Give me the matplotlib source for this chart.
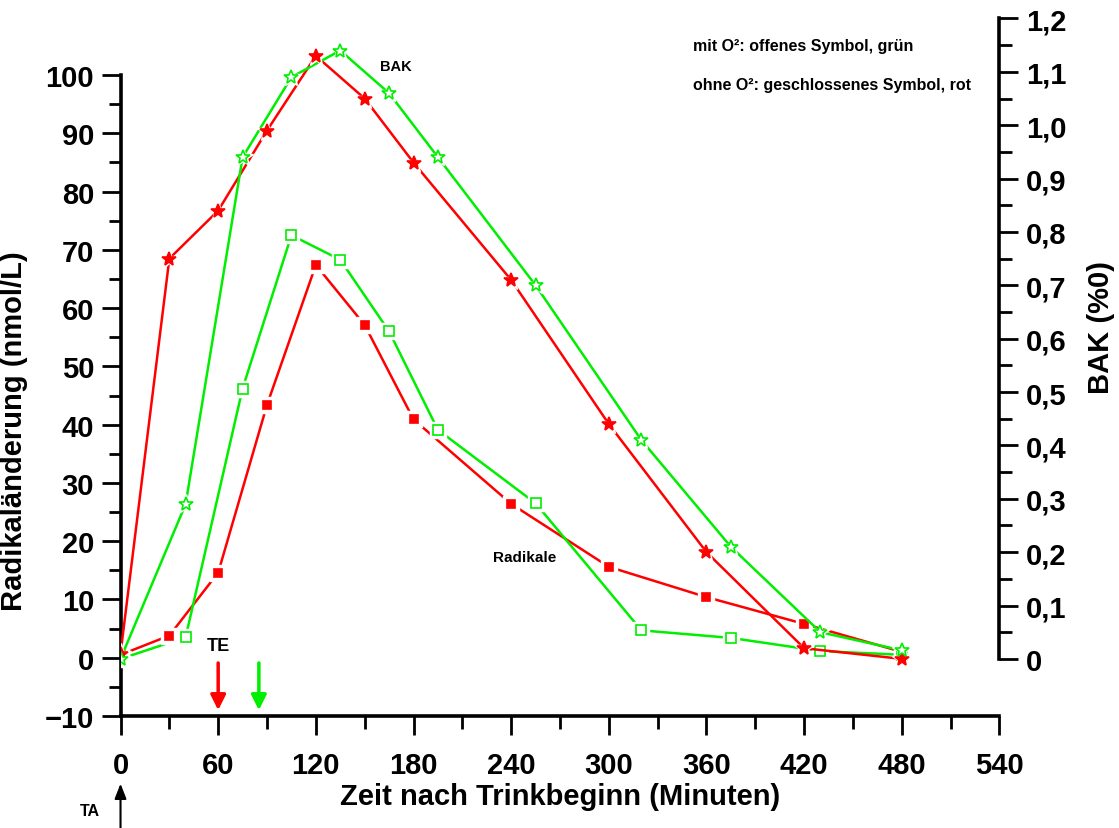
import matplotlib
matplotlib.use("Agg")
import matplotlib.pyplot as plt
from matplotlib.ticker import FixedLocator, FuncFormatter

# Zeitpunkte (Minuten nach Trinkbeginn)
zeit_rot = [0, 30, 60, 90, 120, 150, 180, 240, 300, 360, 420, 480]
zeit_gruen = [0, 40, 75, 105, 135, 165, 195, 255, 320, 375, 430, 480]

# BAK (%0) - Sterne, rechte Achse
bak_rot = [0.01, 0.75, 0.84, 0.99, 1.13, 1.05, 0.93, 0.71, 0.44, 0.20, 0.02, 0.0]
bak_gruen = [0.0, 0.29, 0.94, 1.09, 1.14, 1.06, 0.94, 0.70, 0.41, 0.21, 0.05, 0.016]

# Radikaländerung (nmol/L) - Quadrate, linke Achse
radikale_rot = [0.5, 3.8, 14.6, 43.4, 67.4, 57.1, 40.9, 26.4, 15.6, 10.4, 5.8, 1.0]
radikale_gruen = [-0.2, 3.5, 46.2, 72.5, 68.3, 56.0, 39.1, 26.5, 4.7, 3.4, 1.15, 0.5]

# Trinkende (TE) der beiden Versuche
trinkende_rot = 60
trinkende_gruen = 85

ROT = '#FF0000'
GRUEN = '#00EE00'
FONT = 'Liberation Sans'


def serie(eixo, x, y, marcador, cor, tamanho, aberto):
    """Linie mit Symbolen, die Linie wird am Symbol kurz unterbrochen."""
    eixo.plot(x, y, color=cor, lw=1.8, zorder=2, solid_capstyle='butt')
    eixo.plot(x, y, ls='none', marker=marcador, ms=tamanho + 5,
              mfc='white', mec='white', zorder=3)
    eixo.plot(x, y, ls='none', marker=marcador, ms=tamanho,
              mfc='white' if aberto else cor, mec=cor, mew=1.2, zorder=4)


def komma(v, pos):
    if abs(v) < 1e-9:
        return '0'
    return f'{v:.1f}'.replace('.', ',')


def main():
    plt.rcParams['font.family'] = [FONT, 'DejaVu Sans']
    plt.rcParams['font.weight'] = 'bold'

    fig = plt.figure(figsize=(11.19, 8.29), dpi=100)
    ax = fig.add_axes([0.1077, 0.1351, 0.7855, 0.8414])
    ax2 = ax.twinx()

    ax.set_xlim(0, 540)
    ax.set_ylim(-10, 109.7)
    ax2.set_ylim(-0.107, 1.2)

    # Achsen / Spines
    for s in ['top', 'right']:
        ax.spines[s].set_visible(False)
    for s in ['top', 'left', 'bottom']:
        ax2.spines[s].set_visible(False)
    ax.spines['left'].set_bounds(-10, 100)
    ax2.spines['right'].set_bounds(0, 1.2)
    for sp in [ax.spines['left'], ax.spines['bottom'], ax2.spines['right']]:
        sp.set_linewidth(2.6)

    ax.xaxis.set_major_locator(FixedLocator(range(0, 541, 60)))
    ax.xaxis.set_minor_locator(FixedLocator(range(30, 540, 60)))
    ax.yaxis.set_major_locator(FixedLocator(range(-10, 101, 10)))
    ax.yaxis.set_minor_locator(FixedLocator(range(-5, 100, 10)))
    ax2.yaxis.set_major_locator(FixedLocator([i / 10 for i in range(0, 13)]))
    ax2.yaxis.set_minor_locator(FixedLocator([i / 100 for i in range(5, 120, 10)]))
    ax2.yaxis.set_major_formatter(FuncFormatter(komma))

    ax.tick_params(axis='both', which='major', direction='out', length=14, width=2,
                   labelsize=21, pad=5)
    ax.tick_params(axis='both', which='minor', direction='out', length=9, width=2)
    ax.tick_params(axis='x', which='major', pad=11)
    ax2.tick_params(axis='y', which='major', direction='out', length=14, width=2,
                    labelsize=21, pad=5)
    ax2.tick_params(axis='y', which='minor', direction='out', length=9, width=2)
    for lab in ax.get_xticklabels() + ax.get_yticklabels() + ax2.get_yticklabels():
        lab.set_fontweight('bold')

    ax.set_xlabel('Zeit nach Trinkbeginn (Minuten)', fontsize=21, fontweight='bold', labelpad=2)
    ax.set_ylabel('Radikaländerung (nmol/L)', fontsize=21, fontweight='bold')
    ax.yaxis.set_label_coords(-0.105, 0.41)
    ax2.set_ylabel('BAK (%0)', fontsize=21, fontweight='bold', rotation=90)
    ax2.yaxis.set_label_coords(1.099, 0.558)

    # Radikale (linke Achse)
    serie(ax, zeit_rot, radikale_rot, 's', ROT, 6, False)
    serie(ax, zeit_gruen, radikale_gruen, 's', GRUEN, 6.5, True)
    # BAK (rechte Achse)
    serie(ax2, zeit_rot, bak_rot, '*', ROT, 10.5, False)
    serie(ax2, zeit_gruen, bak_gruen, '*', GRUEN, 10, True)

    # Beschriftungen
    ax.text(169, 101.5, 'BAK', fontsize=10.5, fontweight='bold', ha='center', va='center')
    ax.text(248, 17.3, 'Radikale', fontsize=11, fontweight='bold', ha='center', va='center')
    ax.text(351.5, 105, 'mit O²: offenes Symbol, grün', fontsize=11.5,
            fontweight='bold', ha='left', va='center')
    ax.text(351.5, 98.3, 'ohne O²: geschlossenes Symbol, rot', fontsize=11.5,
            fontweight='bold', ha='left', va='center')
    ax.text(trinkende_rot, 2.1, 'TE', fontsize=13, fontweight='bold', ha='center', va='center')

    # Pfeile fuer Trinkende und Trinkanfang
    for t, cor in [(trinkende_rot, ROT), (trinkende_gruen, GRUEN)]:
        ax.annotate('', xy=(t, -9.0), xytext=(t, -0.9),
                    arrowprops=dict(arrowstyle='-|>,head_length=0.9,head_width=0.45',
                                    color=cor, lw=2.5, shrinkA=0, shrinkB=0))
    ax.annotate('', xy=(0, -21.6), xytext=(0, -29.5), annotation_clip=False,
                arrowprops=dict(arrowstyle='-|>,head_length=0.9,head_width=0.35',
                                color='black', lw=1.5, shrinkA=0, shrinkB=0))
    ax.text(-19, -26.2, 'TA', fontsize=11.5, fontweight='bold', ha='center',
            va='center', clip_on=False)

    fig.savefig('out.png', dpi=100)


if __name__ == "__main__":
    main()
